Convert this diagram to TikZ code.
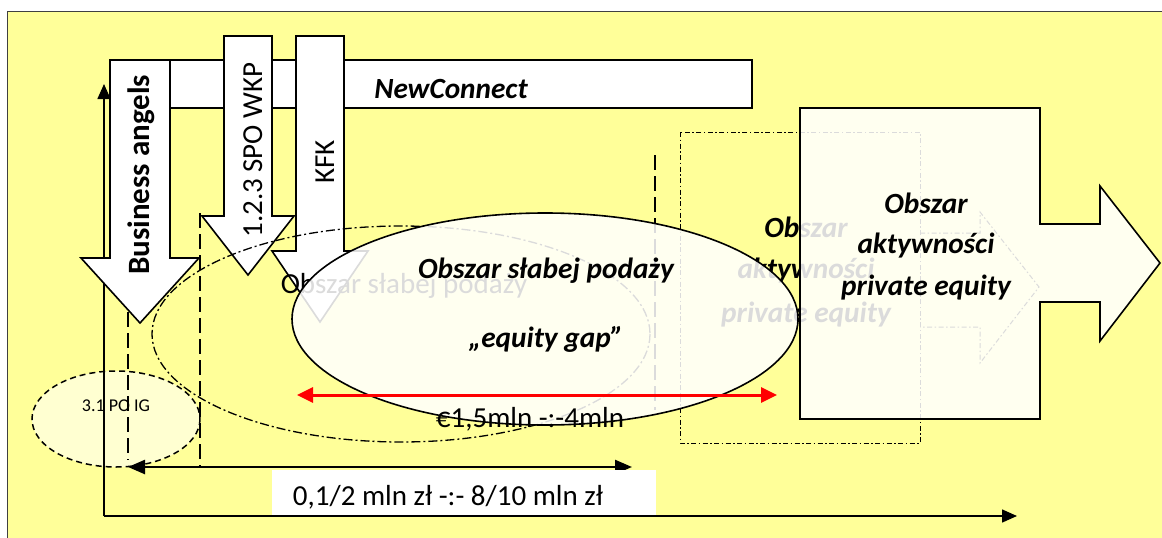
\documentclass[tikz,border=0pt]{standalone}
\usepackage{fontspec}
\setmainfont{Carlito}
\usetikzlibrary{arrows.meta}
\definecolor{bgyellow}{HTML}{FFFF99}
\begin{document}
\begin{tikzpicture}[x=1pt,y=-1pt,
  outline/.style={draw=black,line width=1.6pt,line join=miter},
  whiteshape/.style={outline,fill=white},
  veil/.style={outline,fill=white,fill opacity=0.86},
  bigtxt/.style={font=\fontsize{29}{34}\selectfont,inner sep=0pt,anchor=base},
  bitxt/.style={font=\fontsize{29.3}{34}\selectfont\bfseries\itshape,inner sep=0pt,anchor=base},
  bdtxt/.style={font=\fontsize{31}{36}\selectfont\bfseries,inner sep=0pt,anchor=base},
  longdash/.style={line width=2.4pt,dash pattern=on 15pt off 6pt},
  dashdot/.style={line width=1.3pt,dash pattern=on 9pt off 3pt on 2pt off 3pt},
  finedashdot/.style={line width=1pt,dash pattern=on 5pt off 2.5pt on 1.5pt off 2.5pt},
  axisarrow/.style={line width=1.5pt,-{Triangle[length=15pt,width=13pt]}},
]
\useasboundingbox (0,0) rectangle (1162,538);
\fill[white] (0,0) rectangle (1162,538);
\draw[fill=bgyellow,draw=black!75,line width=1pt] (7,11) rectangle (1175,550);

% small ellipse 3.1 PO IG
\draw[line width=1.5pt,dash pattern=on 6pt off 4pt,fill=white,fill opacity=0.55] (116,419) ellipse [x radius=84, y radius=48];

% axes
\coordinate (ax0) at (104,516);
\coordinate (axtop) at (104,84);
\coordinate (axright) at (1017,516);
\draw[axisarrow] (ax0) -- (axtop);
\draw[axisarrow] (ax0) -- (axright);

% NewConnect bar
\draw[whiteshape] (110,60) rectangle (752,108);
\node[bitxt] (nc) at (451,98) {NewConnect};

% down arrows
\draw[whiteshape] (110,60) -- (170,60) -- (170,258) -- (199,258) -- (140,323) -- (81,258) -- (110,258) -- cycle;
\node[bdtxt,rotate=90] (ba) at (149,175) {Business angels};
\draw[whiteshape] (224,36) -- (272,36) -- (272,216) -- (294,216) -- (248,275) -- (202,216) -- (224,216) -- cycle;
\node[bigtxt,rotate=90] (spo) at (262,150) {1.2.3 SPO WKP};
\draw[whiteshape] (296,36) -- (344,36) -- (344,251) -- (368,251) -- (320,322) -- (272,251) -- (296,251) -- cycle;
\node[bigtxt,rotate=90] (kfk) at (334,162) {KFK};

% dashed verticals
\coordinate (d1t) at (128,312); \coordinate (d1b) at (128,460);
\coordinate (d2t) at (200,213); \coordinate (d2b) at (200,466);
\coordinate (d3t) at (655,155); \coordinate (d3b) at (655,410);
\draw[longdash] (d1t) -- (d1b);
\draw[longdash] (d2t) -- (d2b);
\draw[longdash] (d3t) -- (d3b);

% dash-dot ellipse
\draw[dashdot] (401,334) ellipse [x radius=249, y radius=108];

% dash-dot ghost arrow
\draw[finedashdot] (680,132) rectangle (920,443);
\draw[finedashdot] (920,233) -- (980,233) -- (980,212) -- (1039,287) -- (980,363) -- (980,327) -- (920,327);

% ghost texts
\node[bigtxt] (gslab) at (404,293) {Obszar słabej podaży};
\node[bitxt] (gakt1) at (806,237) {Obszar};
\node[bitxt] (gakt2) at (806,278) {aktywności};
\node[bitxt] (gakt3) at (806,322) {private equity};

% veils
\draw[veil] (545,319) ellipse [x radius=253, y radius=106];
\draw[veil] (800,108) -- (1040,108) -- (1040,224) -- (1100,224) -- (1100,186) -- (1160,263) -- (1100,341) -- (1100,302) -- (1040,302) -- (1040,419) -- (800,419) -- cycle;

% labels on top
\node[font=\fontsize{18}{21}\selectfont,inner sep=0pt,anchor=base] (poig) at (116,411) {3.1 PO IG};
\node[bitxt] (slab) at (546,278) {Obszar słabej podaży};
\node[bitxt] (gap) at (546,347) {„equity gap”};
\node[bitxt] (akt1) at (926,213) {Obszar};
\node[bitxt] (akt2) at (926,253) {aktywności};
\node[bitxt] (akt3) at (926,295) {private equity};

% red arrow
\coordinate (rL) at (297,395); \coordinate (rR) at (777,395);
\draw[red,line width=3pt,{Triangle[length=16pt,width=15pt]}-{Triangle[length=16pt,width=15pt]}] (rL) -- (rR);
\node[bigtxt] (eur) at (530,427) {€1,5mln -:-4mln};

% bottom arrow and box
\coordinate (bL) at (128,467); \coordinate (bR) at (632,467);
\draw[line width=2.5pt,{Triangle[length=17pt,width=14pt]}-{Triangle[length=17pt,width=14pt]}] (bL) -- (bR);
\fill[white] (272,470) rectangle (656,514.5);
\node[bigtxt] (zl) at (448,505) {0,1/2 mln zł -:- 8/10 mln zł};
\end{tikzpicture}
\end{document}
